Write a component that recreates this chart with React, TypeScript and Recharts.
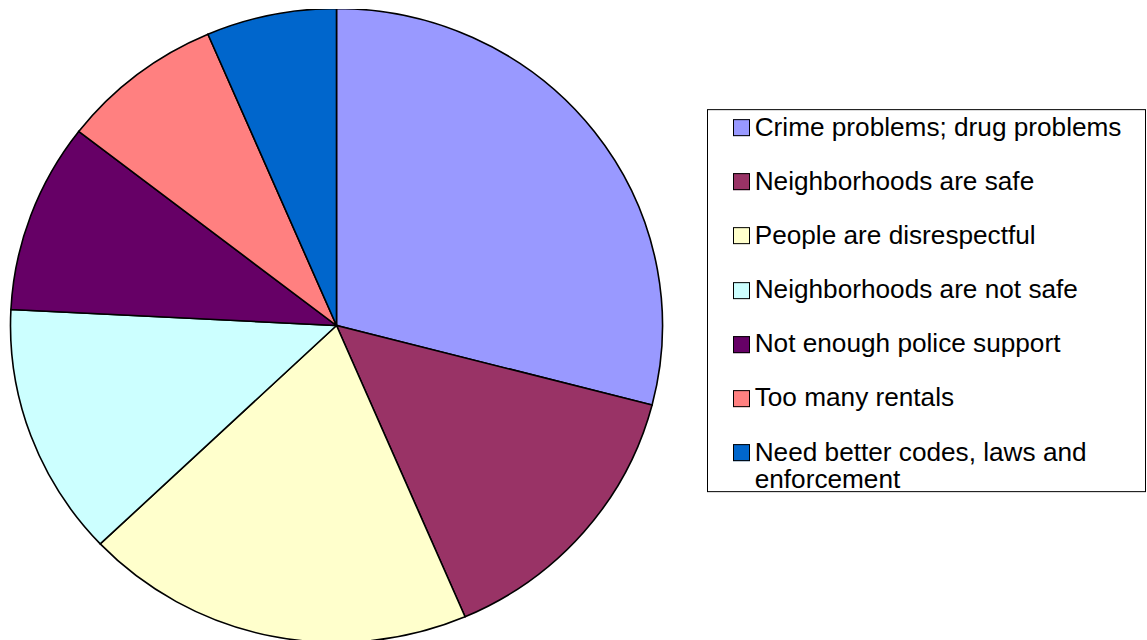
import React from 'react';
import { PieChart, Pie, Cell, Legend } from 'recharts';

const categories = [
  'Crime problems; drug problems',
  'Neighborhoods are safe',
  'People are disrespectful',
  'Neighborhoods are not safe',
  'Not enough police support',
  'Too many rentals',
  'Need better codes, laws and enforcement',
];
const counts = [18, 9, 12, 8, 6, 5, 4];
const colors = ['#9999FF', '#993366', '#FFFFCC', '#CCFFFF', '#660066', '#FF8080', '#0066CC'];

const data = categories.map((name, i) => ({ name, value: counts[i] }));

const K = 317 / 326; // vertical squash of the pie
const CY = 325.5;
const BOX_TOP = 109;
const LEG_TOP = CY + (BOX_TOP - CY) / K;

const LegendContent = () => (
  <div
    style={{
      boxSizing: 'border-box',
      width: 439,
      height: 383,
      border: '1px solid #000',
      background: '#fff',
      paddingTop: 3.5,
      paddingLeft: 25,
      fontFamily: 'Arial, "Liberation Sans", sans-serif',
      fontSize: 26.2,
      lineHeight: '27px',
      color: '#000',
      textAlign: 'left',
    }}
  >
    {categories.map((c, i) => (
      <div key={c} style={{ display: 'flex', alignItems: 'flex-start', marginBottom: 27.2 }}>
        <div
          style={{
            boxSizing: 'border-box',
            width: 17,
            height: 17,
            marginTop: 5.5,
            border: '1px solid #000',
            background: colors[i],
            flex: '0 0 auto',
          }}
        />
        <div style={{ marginLeft: 4.7, width: 378 }}>{c}</div>
      </div>
    ))}
  </div>
);

export default function App() {
  return (
    <div style={{ position: 'absolute', left: 0, top: 0, width: 1147, height: 640, overflow: 'hidden', background: '#fff' }}>
      <div style={{ width: 1147, height: 700, transform: `scaleY(${K})`, transformOrigin: `0px ${CY}px` }}>
        <PieChart width={1147} height={700} margin={{ top: 0, right: 0, bottom: 0, left: 0 }}>
          <Pie
            data={data}
            dataKey="value"
            nameKey="name"
            cx={336.5}
            cy={CY}
            outerRadius={326}
            startAngle={90}
            endAngle={-270}
            stroke="#000"
            strokeWidth={1.6}
            isAnimationActive={false}
          >
            {data.map((d, i) => (
              <Cell key={d.name} fill={colors[i]} stroke="#000" strokeWidth={1.6} />
            ))}
          </Pie>
          <Legend
            layout="vertical"
            align="right"
            verticalAlign="middle"
            content={<LegendContent />}
            wrapperStyle={{
              position: 'absolute',
              left: 707,
              top: LEG_TOP,
              right: 'auto',
              bottom: 'auto',
              width: 439,
              height: 383,
              transform: `scaleY(${1 / K})`,
              transformOrigin: '0 0',
            }}
          />
        </PieChart>
      </div>
    </div>
  );
}
